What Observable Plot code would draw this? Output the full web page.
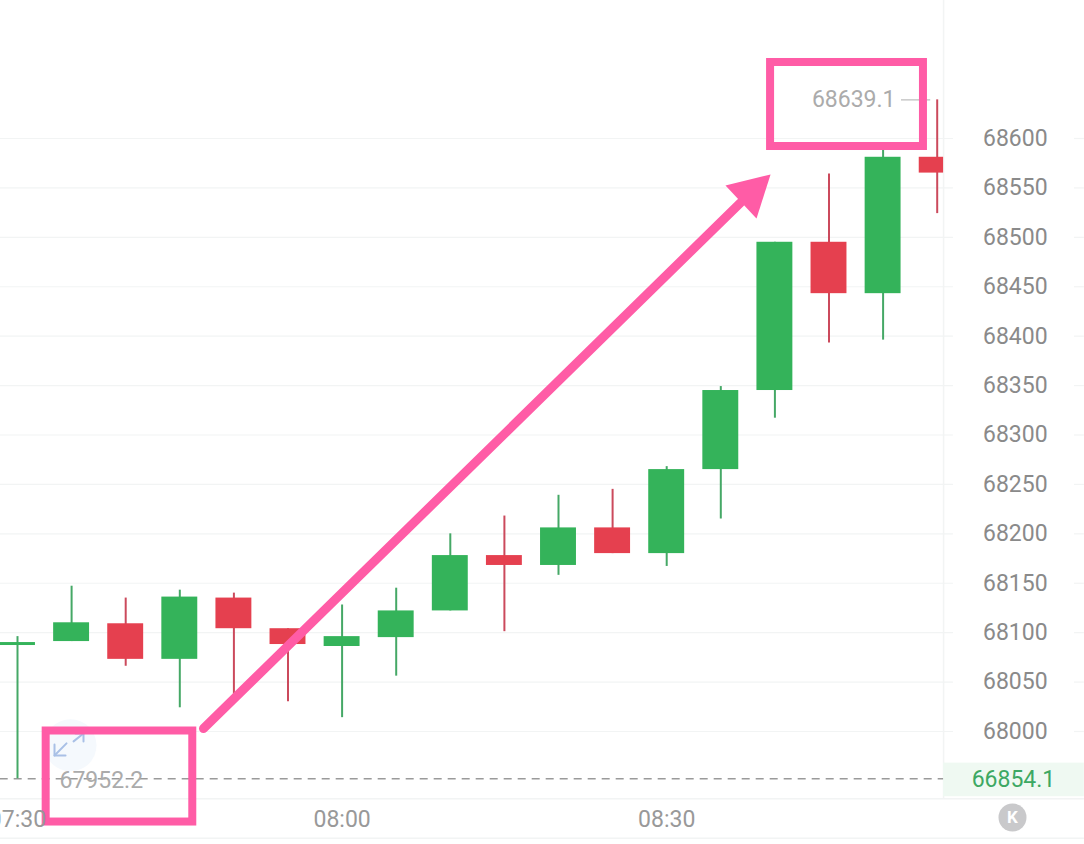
<!DOCTYPE html>
<html><head><meta charset="utf-8">
<script src="https://cdn.jsdelivr.net/npm/d3@7"></script>
<script src="https://cdn.jsdelivr.net/npm/@observablehq/plot@0.6"></script>
<style>html,body{margin:0;padding:0;background:#fff}svg{display:block}</style>
</head><body><div id="chart"></div>
<script>
// minutes relative to 08:00
const minutes = [-30,-25,-20,-15,-10,-5,0,5,10,15,20,25,30,35,40,45,50,55];
const open  = [68087,68091,68109,68073,68135,68104,68086,68095,68122,68178,68168,68206,68180,68265,68345,68495,68443,68581];
const close = [68090,68110,68073,68136,68104,68088,68096,68122,68178,68168,68206,68180,68265,68345,68495,68443,68581,68565];
const high  = [68096,68147,68135,68143,68140,68104,68128,68145,68200,68218,68239,68245,68268,68349,68495,68564,68588,68639.1];
const low   = [67952.2,68091,68066,68024,68036,68030,68014,68056,68122,68101,68158,68180,68167,68215,68317,68393,68396,68524];
const priceTicks = d3.range(68000, 68601, 50);
const timeTicks = [-30,0,30];
const timeLabels = ["07:30","08:00","08:30"];
const maxLabel = "68639.1", minLabel = "67952.2", lastLabel = "66854.1";

const GREEN="#34b35a", RED="#e5404f", GREEN_W="#45a866", RED_W="#cb4a5c", PINK="#ff5ca6", GRID="#f2f4f4", ICON="#a9c0e6";
const xLeft=-31.6, xPane=55.59, xGridEnd=56.5, xRightTick=67.69, xRight=68.6;
const half=1.66;
const rows = minutes.map((m,i)=>({m,o:open[i],c:close[i],h:high[i],l:low[i],
  up:close[i]>=open[i], x1:m-half, x2:Math.min(m+half,xPane)}));
const pts = {x:d=>d[0],y:d=>d[1]};

const chart = Plot.plot({
  width:1084, height:844, marginTop:0, marginLeft:0, marginRight:140, marginBottom:46,
  style:{fontFamily:"Roboto", background:"#fff"},
  x:{domain:[0,30], range:[341.6,666.2]},
  y:{domain:[68000,68600], range:[731,138]},
  marks:[
    Plot.ruleY(priceTicks,{x1:xLeft,x2:xGridEnd,stroke:GRID,strokeWidth:1.2}),
    Plot.ruleY(priceTicks,{x1:xRightTick,x2:xRight,stroke:GRID,strokeWidth:1.2}),
    Plot.ruleY([67932,67892],{x1:xLeft,x2:xRight,stroke:GRID,strokeWidth:1.5}),
    Plot.ruleX([xPane],{y1:67932,y2:68740,stroke:GRID,strokeWidth:1.5}),
    Plot.rect([0],{x1:xPane,x2:xRight,y1:67934,y2:67968,fill:"#eff9f2"}),
    Plot.ruleY([67952.2],{x1:xLeft,x2:xPane,stroke:"#9a9a9a",strokeWidth:1.5,strokeDasharray:"8,6"}),
    Plot.ruleX(rows,{x:"m",y1:"l",y2:"h",stroke:d=>d.up?GREEN_W:RED_W,strokeWidth:2}),
    Plot.rect(rows,{x1:"x1",x2:"x2",y1:"o",y2:"c",fill:d=>d.up?GREEN:RED}),
    Plot.ruleY([68639.1],{x1:51.7,x2:54.4,stroke:"#c8c8c8",strokeWidth:1.5}),
    Plot.text([maxLabel],{x:51.15,y:68639.1,text:d=>d,textAnchor:"end",fontSize:23,fill:"#ababab"}),
    Plot.text([minLabel],{x:-26.12,y:67950,text:d=>d,textAnchor:"start",fontSize:23,fill:"#ababab"}),
    Plot.text([lastLabel],{x:62.05,y:67951,text:d=>d,fontSize:23,fill:"#3da863"}),
    // expand icon
    Plot.dot([0],{x:-25.1,y:67986,r:26,fill:"#f5f9fd"}),
    Plot.line([[-26.58,67986.8],[-26.58,67975.7],[-25.56,67975.7]],{...pts,stroke:ICON,strokeWidth:2}),
    Plot.line([[-26.58,67975.7],[-25.47,67988]],{...pts,stroke:ICON,strokeWidth:2}),
    Plot.line([[-24.64,67998],[-23.9,67998],[-23.9,67990]],{...pts,stroke:ICON,strokeWidth:2}),
    Plot.line([[-23.9,67998],[-24.82,67990]],{...pts,stroke:ICON,strokeWidth:2}),
    // K button
    Plot.dot([0],{x:61.96,y:67913,r:14,fill:"#c9c9cb"}),
    Plot.text(["K"],{x:61.96,y:67913,text:d=>d,fontSize:17,fontWeight:"bold",fill:"#fff"}),
    // annotation
    Plot.rect([0],{x1:39.6,x2:53.73,y1:68591.9,y2:68676.9,stroke:PINK,strokeWidth:8,fill:"none"}),
    Plot.rect([0],{x1:-27.35,x2:-13.8,y1:67908.4,y2:68000.5,stroke:PINK,strokeWidth:8,fill:"none"}),
    Plot.line([[-12.81,68003],[36.82,68535]],{...pts,stroke:PINK,strokeWidth:9}),
    Plot.line([[35.43,68552.4],[39.6,68563.6],[38.3,68519]],{...pts,fill:PINK,stroke:"none"}),
    // axes
    Plot.axisY(priceTicks,{anchor:"right",tickSize:0,tickPadding:38.5,fontSize:23,color:"#8a8a8a",tickFormat:"d",label:null}),
    Plot.axisX(timeTicks,{anchor:"bottom",tickSize:0,tickPadding:12,fontSize:23,color:"#999",label:null,
      tickFormat:d=>timeLabels[timeTicks.indexOf(d)]})
  ]
});
document.getElementById("chart").append(chart);
</script></body></html>
